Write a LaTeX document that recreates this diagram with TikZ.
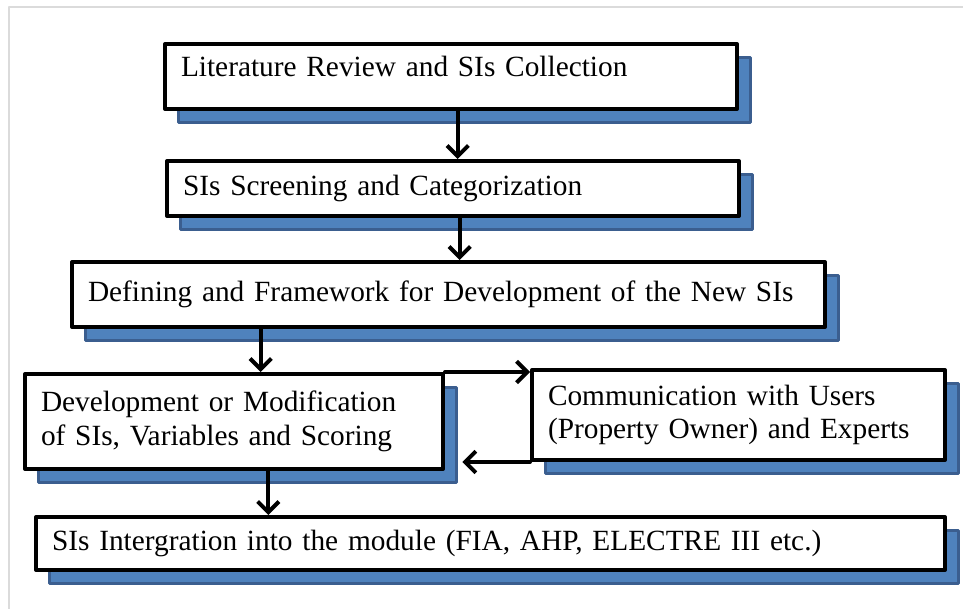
\documentclass[tikz,border=0pt]{standalone}
\usepackage{fontspec}
\setmainfont{Liberation Serif}
\newfontfamily\stepfont{Liberation Serif}
\usepackage{tikz}
\usetikzlibrary{arrows.meta,shadows}
\definecolor{shadowblue}{rgb}{0.31,0.51,0.74}
\definecolor{shadowedge}{rgb}{0.23,0.37,0.56}
\definecolor{framegray}{rgb}{0.86,0.86,0.86}

\begin{document}
\begin{tikzpicture}[line cap=round,line join=round,>={Straight Barb[length=8pt,width=16pt]},x=0.75pt,y=-0.75pt,
  stepbox/.style={draw=black,fill=white,line width=3pt,anchor=north west,align=left,inner xsep=12pt,
    font=\stepfont\fontsize{22}{25}\selectfont,
    general shadow={fill=shadowblue,draw=shadowedge,line width=2pt,shadow xshift=10pt,shadow yshift=-10pt}},
  flow/.style={->,line width=3pt}]
\useasboundingbox (0,0) rectangle (963,609);
\draw[framegray,line width=1.2pt] (9,609) -- (9,7) -- (963,7);
\node[stepbox,text width=405pt,minimum height=48.75pt,text depth=15pt] (review) at (163,42) {Literature Review and SIs Collection};
\node[stepbox,text width=405pt,minimum height=41.25pt] (screen) at (165,159) {SIs Screening and Categorization};
\node[stepbox,text width=540.75pt,minimum height=48.75pt] (frame) at (70,260) {Defining and Framework for Development of the New SIs};
\node[stepbox,text width=289.5pt,minimum height=71.25pt,general shadow={shadow xshift=13pt}] (devel) at (23,372) {Development or Modification\\of SIs, Variables and Scoring};
\node[stepbox,text width=285.75pt,minimum height=67.5pt,general shadow={shadow xshift=12pt,shadow yshift=-15pt}] (comm) at (530,368) {Communication with Users\\(Property Owner) and Experts};
\node[stepbox,text width=657.75pt,minimum height=39.75pt,general shadow={shadow xshift=12pt,shadow yshift=-12pt}] (integr) at (34,515) {SIs Intergration into the module (FIA, AHP, ELECTRE III etc.)};
\coordinate (back) at ([xshift=13pt]devel.east |- comm.south west);
% connectors
\draw[flow] ([xshift=5pt]review.south) -- ([xshift=5pt]review.south |- screen.north);
\draw[flow] ([xshift=5pt]screen.south) -- ([xshift=5pt]screen.south |- frame.north);
\draw[flow] ([xshift=143pt]frame.south west) -- ([xshift=143pt]frame.south west |- devel.north);
\draw[flow] ([xshift=184pt]devel.south west) -- ([xshift=184pt]devel.south west |- integr.north);
\draw[flow] (devel.north east) -- (devel.north east -| comm.west);
\draw[flow] (comm.south west) -- (back);
\end{tikzpicture}
\end{document}
